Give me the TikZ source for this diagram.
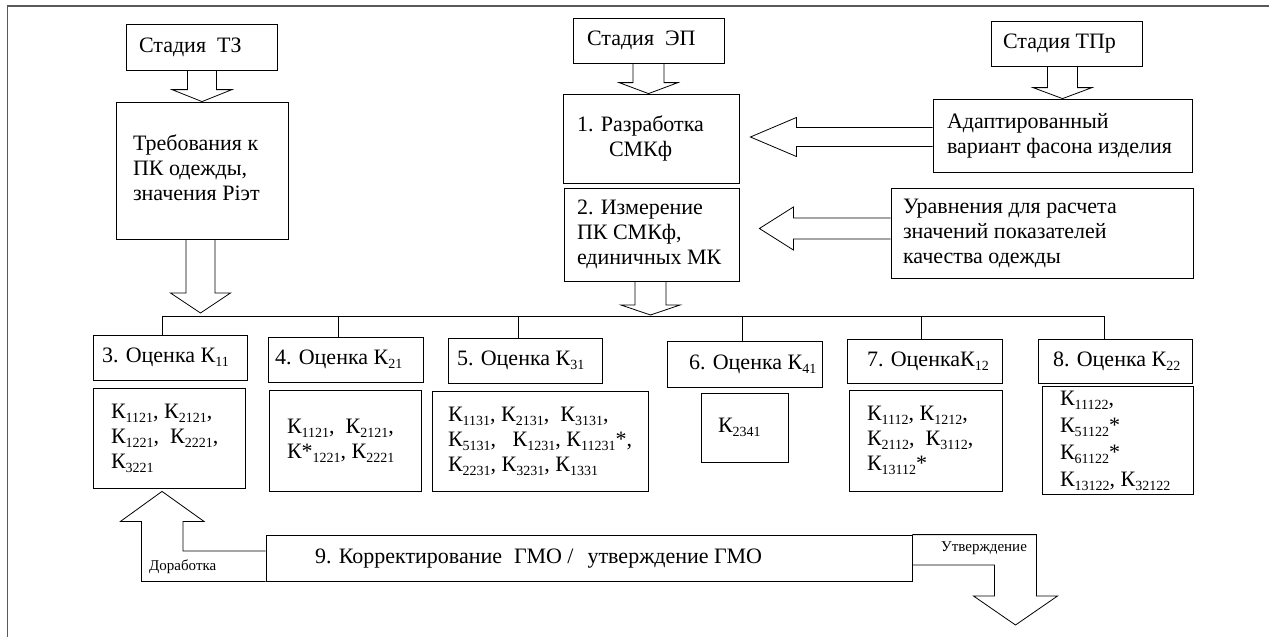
\documentclass[tikz,border=0pt]{standalone}
\usepackage{fontspec}
\setmainfont{Liberation Serif}
\usetikzlibrary{calc}
\newcommand{\tl}[2]{\makebox[#1][l]{\begin{tabular}{@{}l@{}}#2\end{tabular}}}
\newcommand{\subsz}{\fontsize{14}{14}\selectfont}
\newcommand{\ks}[1]{К\raisebox{-4pt}{\subsz #1}}
\newcommand{\dnarr}[5]{%
  \draw[arr] ($(#1 -| #2)+(-#3,0)$) -- ($(#2)+(-#3,-#5)$) -- ($(#2)+(-#4,-#5)$) -- (#2)
    -- ($(#2)+(#4,-#5)$) -- ($(#2)+(#3,-#5)$) -- ($(#1 -| #2)+(#3,0)$);}
\newcommand{\ltarr}[5]{%
  \draw[arr] ($(#1 |- #2)+(0,-#3)$) -- ($(#2)+(#5,-#3)$) -- ($(#2)+(#5,-#4)$) -- (#2)
    -- ($(#2)+(#5,#4)$) -- ($(#2)+(#5,#3)$) -- ($(#1 |- #2)+(0,#3)$);}
\tikzset{
  box/.style={draw, line width=0.8pt, inner sep=0pt, font=\fontsize{22}{25}\selectfont},
  ln/.style={line width=0.8pt},
  arr/.style={line width=0.8pt, line join=miter},
  small/.style={inner sep=0pt, font=\fontsize{15}{18}\selectfont},
}
\begin{document}
\begin{tikzpicture}[x=1pt,y=-1pt]
\useasboundingbox (0,0) rectangle (1269,637);
% frame (cropped)
\draw[line width=1.6pt, black!65] (7.5,637) -- (7.5,6) -- (1269,6);

% top row
\node[box, minimum width=151pt, minimum height=46pt] (tz) at (201.5,47) {\tl{125pt}{Стадия\hspace{11pt}ТЗ}};
\node[box, minimum width=172pt, minimum height=137pt] (req) at (202,170.5) {\tl{138pt}{Требования к\\ПК одежды,\\значения Рiэт}};
\node[box, minimum width=151pt, minimum height=45pt] (ep) at (648.5,40.5) {\tl{123pt}{Стадия\hspace{11pt}ЭП}};
\node[box, minimum width=176pt, minimum height=89pt] (b1) at (651,138.5) {\tl{148pt}{1. Разработка\\\hspace*{32pt}СМКф}};
\node[box, minimum width=175pt, minimum height=93pt] (b2) at (651.5,234.5) {\tl{149pt}{2. Измерение\\ПК СМКф,\\единичных МК}};
\node[box, minimum width=151pt, minimum height=45pt] (tpr) at (1066.5,43.5) {\tl{127pt}{Стадия ТПр}};
\node[box, minimum width=259pt, minimum height=73pt] (adapt) at (1062.5,135.5) {\tl{231pt}{Адаптированный\\вариант фасона изделия}};
\node[box, minimum width=302pt, minimum height=90pt] (urav) at (1042,233) {\tl{278pt}{Уравнения для расчета\\значений показателей\\качества одежды}};

% evaluation row
\node[box, minimum width=154pt, minimum height=45pt] (c3h) at (170,357.5) {\tl{136pt}{3. Оценка \ks{11}}};
\node[box, minimum width=152pt, minimum height=100pt] (c3c) at (169,438) {\tl{116pt}{\ks{1121}, \ks{2121},\\\ks{1221},\ \ \ks{2221},\\\ks{3221}}};
\node[box, minimum width=155pt, minimum height=45pt] (c4h) at (345.5,359.5) {\tl{141pt}{4. Оценка \ks{21}}};
\node[box, minimum width=152pt, minimum height=101pt] (c4c) at (345,440.5) {\tl{116pt}{\ks{1121},\ \ \ks{2121},\\К*\raisebox{-4pt}{\subsz 1221}, \ks{2221}\\ }};
\node[box, minimum width=154pt, minimum height=45pt] (c5h) at (525,360.5) {\tl{136pt}{5. Оценка \ks{31}}};
\node[box, minimum width=216pt, minimum height=100pt] (c5c) at (540,441) {\tl{184pt}{\ks{1131}, \ks{2131},\ \ \ks{3131},\\\ks{5131},\ \ \ \ks{1231}, \ks{11231}*,\\\ks{2231}, \ks{3231}, \ks{1331}}};
\node[box, minimum width=155pt, minimum height=46pt] (c6h) at (744.5,364) {\tl{111pt}{6. Оценка \ks{41}}};
\node[box, minimum width=87pt, minimum height=69pt] (c6c) at (744.5,427.5) {\tl{53pt}{\ks{2341}\\ }};
\node[box, minimum width=155pt, minimum height=44pt] (c7h) at (924.5,361) {\tl{115pt}{7. Оценка\ks{12}}};
\node[box, minimum width=153pt, minimum height=101pt] (c7c) at (925.5,440.5) {\tl{117pt}{\ks{1112}, \ks{1212},\\\ks{2112},\ \ \ks{3112},\\\ks{13112}*}};
\node[box, minimum width=154pt, minimum height=44pt] (c8h) at (1115,361) {\tl{124pt}{8. Оценка \ks{22}}};
\node[box, minimum width=151pt, minimum height=101pt, font=\fontsize{22}{27}\selectfont] (c8c) at (1117.5,440.5) {\tl{115pt}{\ks{11122},\\\ks{51122}*\\\ks{61122}*\\\ks{13122}, \ks{32122}}};

% bottom box
\node[box, minimum width=646pt, minimum height=46pt] (b9) at (589,558) {\tl{548pt}{9. Корректирование\hspace{12pt}ГМО /\hspace{14pt}утверждение ГМО}};

% bus
\coordinate (busy) at (0,316);
\coordinate (d3) at ($(c3h.north west)+(70,0)$);
\coordinate (d4) at ($(c4h.north west)+(71,0)$);
\coordinate (d5) at ($(c5h.north west)+(71,0)$);
\coordinate (d6) at ($(c6h.north west)+(76,0)$);
\coordinate (d7) at ($(c7h.north west)+(75,0)$);
\coordinate (d8) at ($(c8h.north west)+(67,0)$);
\draw[ln] (d3) -- (d3 |- busy) -- (d8 |- busy) -- (d8);
\foreach \d in {d4,d5,d6,d7} \draw[ln] (\d) -- (\d |- busy);

% block arrows
\coordinate (t2) at (200.5,313);
\coordinate (t3) at ($(b1.north)+(-2.5,0)$);
\coordinate (t4) at (650.5,315);
\coordinate (t6) at ($(b1.east)+(11,-1.5)$);
\coordinate (t7) at ($(b2.east)+(20,-6)$);
\dnarr{tz.south}{req.north}{14.5}{30}{12}
\dnarr{req.south}{t2}{14.5}{30}{20}
\dnarr{ep.south}{t3}{15.5}{29.5}{11}
\dnarr{b2.south}{t4}{15.5}{29.5}{10}
\dnarr{tpr.south}{adapt.north}{15}{29.5}{11}
\ltarr{adapt.west}{t6}{9.5}{19.5}{46}
\ltarr{urav.west}{t7}{10.5}{21.5}{34}

% feedback arrows
\coordinate (tipU) at ($(c3c.south)+(-7,3)$);
\draw[arr] (b9.south west) -| ($(tipU)+(-20.5,30)$) -- ++(-21,0) -- (tipU)
  -- ($(tipU)+(42,30)$) -- ++(-21,0) |- ($(b9.west)+(0,-7)$);
\coordinate (tipD) at (1015.5,625);
\draw[arr] (b9.north east) -| ($(tipD)+(21,-29)$) -- ++(21,0) -- (tipD)
  -- ($(tipD)+(-42,-29)$) -- ++(21,0) |- ($(b9.east)+(0,7)$);

\node[small, anchor=west] (dor) at (149,567) {Доработка};
\node[small, anchor=west] (utv) at (941,548) {Утверждение};
\end{tikzpicture}
\end{document}
